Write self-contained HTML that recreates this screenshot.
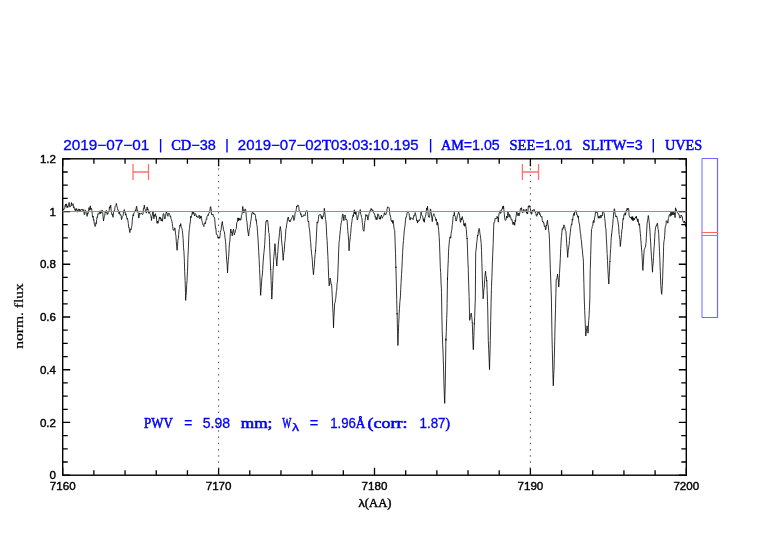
<!DOCTYPE html>
<html><head><meta charset="utf-8"><style>
html,body{margin:0;padding:0;background:#fff;}
body{width:782px;height:542px;overflow:hidden;position:relative;}
svg{position:absolute;left:0;top:0;will-change:transform;}
.lab{font-family:"Liberation Sans",sans-serif;font-size:11.6px;fill:#000;stroke:#000;stroke-width:0.4px;}
.title{font-family:"Liberation Sans",sans-serif;font-size:13.9px;fill:#0000ff;stroke:#0000ff;stroke-width:0.3px;}
.ser{font-family:"Liberation Serif",serif;}
</style></head><body>
<svg width="782" height="542" viewBox="0 0 782 542">
<g stroke="#000" stroke-width="1.4" fill="none">
<rect x="62.7" y="158.8" width="623.6" height="316.4"/>
<path d="M62.70,475.2 V467.7 M62.70,158.8 V166.3 M93.88,475.2 V470.2 M93.88,158.8 V163.8 M125.06,475.2 V470.2 M125.06,158.8 V163.8 M156.24,475.2 V470.2 M156.24,158.8 V163.8 M187.42,475.2 V470.2 M187.42,158.8 V163.8 M218.60,475.2 V467.7 M218.60,158.8 V166.3 M249.78,475.2 V470.2 M249.78,158.8 V163.8 M280.96,475.2 V470.2 M280.96,158.8 V163.8 M312.14,475.2 V470.2 M312.14,158.8 V163.8 M343.32,475.2 V470.2 M343.32,158.8 V163.8 M374.50,475.2 V467.7 M374.50,158.8 V166.3 M405.68,475.2 V470.2 M405.68,158.8 V163.8 M436.86,475.2 V470.2 M436.86,158.8 V163.8 M468.04,475.2 V470.2 M468.04,158.8 V163.8 M499.22,475.2 V470.2 M499.22,158.8 V163.8 M530.40,475.2 V467.7 M530.40,158.8 V166.3 M561.58,475.2 V470.2 M561.58,158.8 V163.8 M592.76,475.2 V470.2 M592.76,158.8 V163.8 M623.94,475.2 V470.2 M623.94,158.8 V163.8 M655.12,475.2 V470.2 M655.12,158.8 V163.8 M686.30,475.2 V467.7 M686.30,158.8 V166.3 M62.7,475.20 H70.2 M686.3,475.20 H678.8 M62.7,462.02 H67.7 M686.3,462.02 H681.3 M62.7,448.83 H67.7 M686.3,448.83 H681.3 M62.7,435.65 H67.7 M686.3,435.65 H681.3 M62.7,422.47 H70.2 M686.3,422.47 H678.8 M62.7,409.28 H67.7 M686.3,409.28 H681.3 M62.7,396.10 H67.7 M686.3,396.10 H681.3 M62.7,382.92 H67.7 M686.3,382.92 H681.3 M62.7,369.73 H70.2 M686.3,369.73 H678.8 M62.7,356.55 H67.7 M686.3,356.55 H681.3 M62.7,343.37 H67.7 M686.3,343.37 H681.3 M62.7,330.18 H67.7 M686.3,330.18 H681.3 M62.7,317.00 H70.2 M686.3,317.00 H678.8 M62.7,303.82 H67.7 M686.3,303.82 H681.3 M62.7,290.63 H67.7 M686.3,290.63 H681.3 M62.7,277.45 H67.7 M686.3,277.45 H681.3 M62.7,264.27 H70.2 M686.3,264.27 H678.8 M62.7,251.08 H67.7 M686.3,251.08 H681.3 M62.7,237.90 H67.7 M686.3,237.90 H681.3 M62.7,224.72 H67.7 M686.3,224.72 H681.3 M62.7,211.53 H70.2 M686.3,211.53 H678.8 M62.7,198.35 H67.7 M686.3,198.35 H681.3 M62.7,185.17 H67.7 M686.3,185.17 H681.3 M62.7,171.98 H67.7 M686.3,171.98 H681.3 M62.7,158.80 H70.2 M686.3,158.80 H678.8" stroke-width="1.3"/>
</g>
<g stroke="#333" stroke-width="0.9" stroke-dasharray="1.4 4.836" fill="none">
<path d="M218.6,162.16 V475.2 M530.4,162.16 V475.2"/>
</g>
<path d="M63.1,209.2 L63.5,209.9 L63.9,208.6 L64.3,208.9 L64.7,208.4 L65.1,205.5 L65.5,204.2 L65.9,206.6 L66.3,203.9 L66.7,204.2 L67.1,207.8 L67.5,206.0 L67.9,207.4 L68.3,205.2 L68.7,205.2 L69.1,202.4 L69.5,205.0 L69.9,207.1 L70.3,206.2 L70.7,206.4 L71.1,205.3 L71.5,202.5 L71.9,205.7 L72.3,205.2 L72.7,204.3 L73.1,203.7 L73.5,207.7 L73.9,206.6 L74.3,208.2 L74.7,209.9 L75.1,210.2 L75.5,211.3 L75.9,208.5 L76.3,209.7 L76.7,208.7 L77.1,211.6 L77.5,212.2 L77.9,209.7 L78.3,209.3 L78.7,209.1 L79.1,211.7 L79.5,209.2 L79.9,210.6 L80.3,209.8 L80.7,210.7 L81.1,209.8 L81.5,209.2 L81.9,209.8 L82.3,209.5 L82.7,210.5 L83.1,209.3 L83.5,210.1 L83.9,212.0 L84.3,214.8 L84.7,214.5 L85.1,209.9 L85.5,210.4 L85.9,211.7 L86.3,213.4 L86.7,213.9 L87.1,216.4 L87.5,212.9 L87.9,214.1 L88.3,211.6 L88.7,209.2 L89.1,207.5 L89.5,210.1 L89.9,209.9 L90.3,205.8 L90.7,209.6 L91.1,208.7 L91.5,208.4 L91.9,210.5 L92.3,214.7 L92.7,217.3 L93.1,216.0 L93.5,220.3 L93.9,219.7 L94.3,224.4 L94.7,224.5 L95.1,226.5 L95.5,225.8 L95.9,222.7 L96.3,223.7 L96.7,219.3 L97.1,216.8 L97.5,217.4 L97.9,213.5 L98.3,213.7 L98.7,214.0 L99.1,214.3 L99.5,211.8 L99.9,210.8 L100.3,213.7 L100.7,210.9 L101.1,213.2 L101.5,212.7 L101.9,210.2 L102.3,210.3 L102.7,212.4 L103.1,217.1 L103.5,221.0 L103.9,218.7 L104.3,216.7 L104.7,215.9 L105.1,212.4 L105.5,211.8 L105.9,212.7 L106.3,210.4 L106.7,210.9 L107.1,214.5 L107.5,213.4 L107.9,214.2 L108.3,211.5 L108.7,211.6 L109.1,210.7 L109.5,206.7 L109.9,208.2 L110.3,207.5 L110.7,205.1 L111.1,210.1 L111.5,212.0 L111.9,214.6 L112.3,214.0 L112.7,216.3 L113.1,217.3 L113.5,212.9 L113.9,210.8 L114.3,211.2 L114.7,210.2 L115.1,206.2 L115.5,206.1 L115.9,205.6 L116.3,203.4 L116.7,205.3 L117.1,206.7 L117.5,208.3 L117.9,210.3 L118.3,210.2 L118.7,211.6 L119.1,213.9 L119.5,211.3 L119.9,214.1 L120.3,215.3 L120.7,214.6 L121.1,215.7 L121.5,219.5 L121.9,218.5 L122.3,216.6 L122.7,216.0 L123.1,215.6 L123.5,211.5 L123.9,211.0 L124.3,209.5 L124.7,212.3 L125.1,212.0 L125.5,215.2 L125.9,213.8 L126.3,215.4 L126.7,217.5 L127.1,219.3 L127.5,218.3 L127.9,220.6 L128.3,223.5 L128.7,227.5 L129.1,227.3 L129.5,231.2 L129.9,232.6 L130.3,229.8 L130.7,228.8 L131.1,229.7 L131.5,227.6 L131.9,225.7 L132.3,220.8 L132.7,216.9 L133.1,214.6 L133.5,216.0 L133.9,213.0 L134.3,212.5 L134.7,212.1 L135.1,211.0 L135.5,209.8 L135.9,210.9 L136.3,206.9 L136.7,206.2 L137.1,210.2 L137.5,209.9 L137.9,212.2 L138.3,213.5 L138.7,218.1 L139.1,216.9 L139.5,212.9 L139.9,214.0 L140.3,214.0 L140.7,213.7 L141.1,213.5 L141.5,212.9 L141.9,213.9 L142.3,214.4 L142.7,214.7 L143.1,213.2 L143.5,208.2 L143.9,208.5 L144.3,205.1 L144.7,208.5 L145.1,208.8 L145.5,210.9 L145.9,211.9 L146.3,213.1 L146.7,210.5 L147.1,206.9 L147.5,209.9 L147.9,208.8 L148.3,210.5 L148.7,213.3 L149.1,212.6 L149.5,211.5 L149.9,213.8 L150.3,214.4 L150.7,215.3 L151.1,217.0 L151.5,220.5 L151.9,216.6 L152.3,215.6 L152.7,211.4 L153.1,210.9 L153.5,215.0 L153.9,218.8 L154.3,214.8 L154.7,216.2 L155.1,215.4 L155.5,213.7 L155.9,216.6 L156.3,216.1 L156.7,220.8 L157.1,223.2 L157.5,221.1 L157.9,223.4 L158.3,222.2 L158.7,221.2 L159.1,218.7 L159.5,216.9 L159.9,218.9 L160.3,217.3 L160.7,219.1 L161.1,221.0 L161.5,219.9 L161.9,218.6 L162.3,221.3 L162.7,219.4 L163.1,214.0 L163.5,213.5 L163.9,214.0 L164.3,216.4 L164.7,219.0 L165.1,218.4 L165.5,216.4 L165.9,213.7 L166.3,211.8 L166.7,213.0 L167.1,212.9 L167.5,215.4 L167.9,216.3 L168.3,214.7 L168.7,213.2 L169.1,213.4 L169.5,214.0 L169.9,215.1 L170.3,217.0 L170.7,216.4 L171.1,219.3 L171.5,219.7 L171.9,221.4 L172.3,223.6 L172.7,226.6 L173.1,229.9 L173.5,229.8 L173.9,230.5 L174.3,229.1 L174.7,227.8 L175.1,228.7 L175.5,233.8 L175.9,235.6 L176.3,241.6 L176.7,246.0 L177.0,249.7 L177.1,250.3 L177.5,246.6 L177.9,240.4 L178.3,238.7 L178.7,234.3 L179.1,229.6 L179.5,228.6 L179.9,225.2 L180.3,226.2 L180.7,223.6 L181.1,226.2 L181.5,227.4 L181.9,228.5 L182.3,230.5 L182.7,233.9 L183.1,238.5 L183.5,247.2 L183.9,251.4 L184.3,258.6 L184.4,261.7 L184.7,271.8 L185.1,280.6 L185.5,292.7 L185.7,300.4 L185.9,295.8 L186.3,293.3 L186.7,284.6 L187.1,280.1 L187.1,278.1 L187.5,271.1 L187.9,257.5 L188.3,250.1 L188.7,238.9 L189.1,231.0 L189.5,228.6 L189.9,224.2 L190.3,222.2 L190.7,216.2 L191.1,217.7 L191.5,215.5 L191.9,215.3 L192.3,211.6 L192.7,213.2 L193.1,214.2 L193.5,211.2 L193.9,213.0 L194.3,214.7 L194.7,216.0 L195.1,213.7 L195.5,213.7 L195.9,214.2 L196.3,215.9 L196.7,217.1 L197.1,216.2 L197.5,216.8 L197.9,217.6 L198.3,217.0 L198.7,216.9 L199.1,215.1 L199.5,216.5 L199.9,218.7 L200.3,216.5 L200.7,218.1 L201.1,215.9 L201.5,218.3 L201.9,220.6 L202.3,222.3 L202.7,223.7 L203.1,225.1 L203.5,225.6 L203.9,226.6 L204.3,223.3 L204.7,222.7 L205.1,224.0 L205.5,223.4 L205.9,220.4 L206.3,218.9 L206.7,219.3 L207.1,216.2 L207.5,215.7 L207.9,214.7 L208.3,215.5 L208.7,213.6 L209.1,212.5 L209.5,212.7 L209.9,211.7 L210.3,206.9 L210.7,206.6 L211.1,208.8 L211.5,214.1 L211.9,215.0 L212.3,214.2 L212.7,214.5 L213.1,214.2 L213.5,216.8 L213.9,217.2 L214.3,217.2 L214.7,218.8 L215.1,224.0 L215.5,228.3 L215.9,228.1 L216.3,234.1 L216.7,234.0 L217.1,235.3 L217.5,235.5 L217.9,237.7 L218.2,236.9 L218.3,238.3 L218.7,237.3 L219.1,237.2 L219.5,238.3 L219.7,237.5 L219.9,237.5 L220.3,232.5 L220.7,230.8 L221.1,229.9 L221.5,226.1 L221.9,223.3 L222.3,221.5 L222.7,225.2 L223.1,226.6 L223.5,229.5 L223.9,231.1 L224.3,231.7 L224.7,234.7 L225.1,238.3 L225.5,241.2 L225.8,244.9 L225.9,247.3 L226.3,254.2 L226.7,260.6 L227.1,264.1 L227.5,271.4 L227.5,272.9 L227.9,265.2 L228.3,260.3 L228.7,256.2 L229.1,249.9 L229.1,248.2 L229.5,243.1 L229.9,241.1 L230.3,233.8 L230.7,229.0 L231.1,230.3 L231.5,232.8 L231.9,232.2 L232.2,235.9 L232.3,234.6 L232.7,232.4 L233.1,230.1 L233.5,229.2 L233.9,232.1 L234.3,234.9 L234.7,233.2 L235.1,232.7 L235.5,229.8 L235.9,229.4 L236.3,228.7 L236.7,222.7 L237.1,222.2 L237.5,221.8 L237.9,217.8 L238.3,220.8 L238.7,218.0 L239.1,219.9 L239.5,220.1 L239.9,218.3 L240.3,220.1 L240.7,220.2 L241.1,219.2 L241.5,215.3 L241.9,214.6 L242.3,211.6 L242.7,206.4 L243.1,208.7 L243.5,209.7 L243.9,213.0 L244.3,210.7 L244.7,210.7 L245.1,208.9 L245.5,209.4 L245.9,211.5 L246.3,217.1 L246.7,220.7 L247.1,222.5 L247.5,229.2 L247.9,231.9 L248.3,233.4 L248.4,235.9 L248.7,235.9 L249.1,230.1 L249.5,228.4 L249.9,227.6 L250.3,224.5 L250.7,221.7 L251.1,219.4 L251.5,216.0 L251.9,213.3 L252.3,212.4 L252.7,211.5 L253.1,213.9 L253.5,213.7 L253.9,213.0 L254.3,214.6 L254.7,213.9 L255.1,214.3 L255.5,215.6 L255.9,220.4 L256.3,219.6 L256.7,224.3 L257.1,225.9 L257.5,231.9 L257.9,237.1 L258.3,244.0 L258.7,251.3 L259.1,258.8 L259.2,260.4 L259.5,268.5 L259.9,276.1 L260.3,287.5 L260.7,295.4 L260.7,293.8 L261.1,289.1 L261.5,283.0 L261.9,277.7 L262.3,275.1 L262.7,269.5 L262.9,265.9 L263.1,262.1 L263.5,257.0 L263.9,252.9 L264.3,249.2 L264.7,244.5 L264.8,241.9 L265.1,236.8 L265.5,228.0 L265.9,221.6 L266.3,221.8 L266.7,220.2 L267.1,220.7 L267.5,220.1 L267.9,222.4 L268.3,226.5 L268.7,232.6 L269.1,233.3 L269.4,238.2 L269.5,241.9 L269.9,251.9 L270.3,261.8 L270.7,269.6 L270.7,269.1 L271.1,280.5 L271.5,291.4 L271.8,299.1 L271.9,297.5 L272.3,290.4 L272.7,280.5 L273.1,270.3 L273.5,264.1 L273.6,260.4 L273.9,256.5 L274.3,251.8 L274.7,247.2 L274.9,243.7 L275.1,243.9 L275.5,251.8 L275.9,256.1 L276.3,260.0 L276.7,264.8 L276.8,265.9 L277.1,261.7 L277.5,255.3 L277.9,251.4 L278.3,244.0 L278.6,241.9 L278.7,240.9 L279.1,237.4 L279.5,232.5 L279.9,228.9 L280.3,226.5 L280.7,229.1 L281.1,231.2 L281.5,239.2 L281.9,243.8 L282.3,246.7 L282.7,253.2 L283.1,258.0 L283.2,260.4 L283.5,255.3 L283.9,252.7 L284.3,249.9 L284.7,242.8 L285.1,240.6 L285.5,235.4 L285.9,228.6 L286.3,228.3 L286.7,224.3 L287.1,222.7 L287.5,218.9 L287.9,217.9 L288.3,217.0 L288.7,219.7 L289.1,221.0 L289.5,221.5 L289.9,220.3 L290.3,221.7 L290.7,220.5 L291.1,219.0 L291.5,218.7 L291.9,217.6 L292.3,216.8 L292.7,215.4 L293.1,215.5 L293.5,218.8 L293.9,220.5 L294.3,219.6 L294.7,217.3 L295.1,212.6 L295.5,212.0 L295.9,212.0 L296.3,208.9 L296.7,205.9 L297.1,206.9 L297.5,205.9 L297.9,204.9 L298.3,205.3 L298.7,206.4 L299.1,209.9 L299.5,211.6 L299.9,212.1 L300.3,212.6 L300.7,214.6 L301.1,213.8 L301.5,216.9 L301.9,217.1 L302.3,216.6 L302.7,215.9 L303.1,216.4 L303.5,215.2 L303.9,214.7 L304.3,215.2 L304.7,215.6 L305.1,215.9 L305.5,212.7 L305.9,211.1 L306.3,211.5 L306.7,210.4 L307.1,210.9 L307.5,213.0 L307.9,221.2 L308.3,222.0 L308.7,221.2 L309.1,227.8 L309.5,229.2 L309.9,233.1 L310.3,239.2 L310.7,242.4 L311.1,248.8 L311.5,252.1 L311.6,253.9 L311.9,255.8 L312.3,260.1 L312.7,267.5 L313.1,270.2 L313.4,274.6 L313.5,274.7 L313.9,268.9 L314.3,266.4 L314.7,259.3 L315.1,254.7 L315.5,250.3 L315.5,251.3 L315.9,245.7 L316.3,238.0 L316.7,229.9 L317.1,221.9 L317.5,223.0 L317.9,222.9 L318.3,219.9 L318.7,216.1 L319.1,214.9 L319.5,214.8 L319.9,215.1 L320.3,214.6 L320.7,214.6 L321.1,217.1 L321.5,218.4 L321.9,215.7 L322.3,219.2 L322.7,217.4 L323.1,217.0 L323.5,215.7 L323.9,213.9 L324.3,208.3 L324.7,211.6 L325.1,214.9 L325.5,219.7 L325.9,220.8 L326.3,226.3 L326.7,235.6 L327.1,240.2 L327.5,249.1 L327.9,256.6 L328.0,259.2 L328.3,267.2 L328.7,277.9 L329.1,284.4 L329.1,285.8 L329.5,284.0 L329.9,281.1 L330.2,278.0 L330.3,279.9 L330.7,280.8 L331.1,284.5 L331.5,284.2 L331.7,285.8 L331.9,289.5 L332.3,296.9 L332.7,307.4 L333.0,312.3 L333.1,315.3 L333.5,326.8 L333.5,327.8 L333.9,317.6 L334.3,311.1 L334.6,303.5 L334.7,303.5 L335.1,302.4 L335.5,299.4 L335.7,299.1 L335.9,297.1 L336.3,291.7 L336.7,290.2 L337.1,283.3 L337.5,281.3 L337.5,281.4 L337.9,272.5 L338.3,262.1 L338.7,249.6 L339.0,243.8 L339.1,241.6 L339.5,239.6 L339.9,234.2 L340.3,230.7 L340.7,226.7 L341.1,222.8 L341.5,222.5 L341.9,219.7 L342.3,215.9 L342.7,213.9 L343.1,214.7 L343.5,218.1 L343.9,220.7 L344.3,215.5 L344.7,215.8 L345.1,215.1 L345.5,216.3 L345.9,220.0 L346.3,219.5 L346.7,219.5 L347.1,220.7 L347.5,226.1 L347.9,231.7 L348.3,235.1 L348.7,241.8 L349.1,250.8 L349.1,248.8 L349.5,243.7 L349.9,241.2 L350.3,236.6 L350.4,236.0 L350.7,233.5 L351.1,227.8 L351.5,224.4 L351.9,221.7 L352.3,218.6 L352.7,217.0 L353.1,214.9 L353.5,216.4 L353.9,211.8 L354.3,209.8 L354.7,213.7 L355.1,211.0 L355.5,214.4 L355.9,211.5 L356.3,214.5 L356.7,215.1 L357.1,219.3 L357.5,220.1 L357.9,217.7 L358.3,215.7 L358.7,214.6 L359.1,211.6 L359.5,211.9 L359.9,210.5 L360.3,209.5 L360.7,214.2 L361.1,214.8 L361.5,217.4 L361.9,217.8 L362.3,222.5 L362.7,225.5 L363.1,229.9 L363.5,230.5 L363.9,231.3 L364.3,228.0 L364.7,222.4 L365.1,220.5 L365.5,217.3 L365.9,214.4 L366.3,215.9 L366.7,216.2 L367.1,215.2 L367.5,216.5 L367.9,220.1 L368.3,217.1 L368.7,216.2 L369.1,213.4 L369.5,212.6 L369.9,210.7 L370.3,212.1 L370.7,209.5 L371.1,208.4 L371.5,209.7 L371.9,209.0 L372.3,211.2 L372.7,210.5 L373.1,210.3 L373.5,212.8 L373.9,212.9 L374.3,213.8 L374.7,213.9 L375.1,217.1 L375.5,216.5 L375.9,219.5 L376.3,219.6 L376.7,217.5 L377.1,219.5 L377.5,215.3 L377.9,213.8 L378.3,215.3 L378.7,214.9 L379.1,217.3 L379.5,219.1 L379.9,217.4 L380.3,219.3 L380.7,216.4 L381.1,216.0 L381.5,215.0 L381.9,217.5 L382.3,218.3 L382.7,217.2 L383.1,216.3 L383.5,216.0 L383.9,215.4 L384.3,212.9 L384.7,212.6 L385.1,214.6 L385.5,213.9 L385.9,214.5 L386.3,213.6 L386.7,212.1 L387.1,208.9 L387.5,206.9 L387.9,207.1 L388.3,207.3 L388.7,207.2 L389.1,207.8 L389.5,210.2 L389.9,215.4 L390.3,215.3 L390.7,217.4 L391.1,220.5 L391.5,221.5 L391.9,220.1 L392.3,220.5 L392.7,223.4 L393.1,220.5 L393.5,223.4 L393.9,227.3 L394.3,229.7 L394.7,230.4 L395.1,241.5 L395.5,253.8 L395.9,267.8 L395.9,266.7 L396.3,282.1 L396.7,299.7 L397.1,314.4 L397.1,313.2 L397.5,331.4 L397.9,343.5 L397.9,345.5 L398.3,334.2 L398.7,323.6 L399.1,315.4 L399.2,313.2 L399.5,308.3 L399.9,301.6 L400.3,298.1 L400.5,295.1 L400.7,289.5 L401.1,282.5 L401.5,274.4 L401.9,268.8 L402.3,259.4 L402.6,253.8 L402.7,251.4 L403.1,244.7 L403.5,240.6 L403.9,235.6 L404.3,230.1 L404.7,227.8 L405.1,224.9 L405.5,220.0 L405.9,217.1 L406.3,217.2 L406.7,215.5 L407.1,212.6 L407.5,212.3 L407.9,212.3 L408.3,212.4 L408.7,213.2 L409.1,213.8 L409.5,217.6 L409.9,219.9 L410.3,219.8 L410.7,217.4 L411.1,217.7 L411.5,218.3 L411.9,218.6 L412.3,218.5 L412.7,218.5 L413.1,219.7 L413.5,216.8 L413.9,215.4 L414.3,216.1 L414.7,215.9 L415.1,212.6 L415.5,213.8 L415.9,215.4 L416.3,217.6 L416.7,220.9 L417.1,220.2 L417.5,223.1 L417.9,220.6 L418.3,221.5 L418.7,221.3 L419.1,219.8 L419.5,220.5 L419.9,219.2 L420.3,218.4 L420.7,215.8 L421.1,212.1 L421.5,214.3 L421.9,215.2 L422.3,216.1 L422.7,216.3 L423.1,219.2 L423.5,221.1 L423.9,218.8 L424.3,222.3 L424.7,218.8 L425.1,217.1 L425.5,216.4 L425.9,214.3 L426.3,211.5 L426.7,208.1 L427.1,209.7 L427.5,206.3 L427.9,210.6 L428.3,215.9 L428.7,217.1 L429.1,217.2 L429.5,217.3 L429.9,214.4 L430.3,208.9 L430.7,209.5 L431.1,212.3 L431.5,215.0 L431.9,218.7 L432.3,221.6 L432.7,216.5 L433.1,215.7 L433.5,214.2 L433.9,213.7 L434.3,215.6 L434.7,216.5 L435.1,216.9 L435.5,217.9 L435.9,220.6 L436.3,219.1 L436.7,221.8 L437.1,225.2 L437.5,222.1 L437.9,223.4 L438.3,226.9 L438.7,230.5 L439.1,236.2 L439.2,237.1 L439.5,243.2 L439.9,254.7 L440.1,261.1 L440.3,267.3 L440.7,272.4 L441.1,284.1 L441.4,288.8 L441.5,292.6 L441.9,316.9 L442.2,330.4 L442.3,333.9 L442.7,344.9 L443.1,353.9 L443.3,360.9 L443.5,365.9 L443.9,382.6 L444.3,393.9 L444.3,395.3 L444.7,402.1 L444.7,403.4 L445.1,389.9 L445.3,381.1 L445.5,369.2 L445.9,338.7 L445.9,340.6 L446.3,331.4 L446.7,318.6 L447.0,310.1 L447.1,303.5 L447.5,277.9 L447.5,279.6 L447.9,268.1 L448.3,259.5 L448.5,251.9 L448.7,248.8 L449.1,243.9 L449.5,239.7 L449.7,239.0 L449.9,236.9 L450.3,236.8 L450.7,238.2 L451.1,233.6 L451.5,231.1 L451.9,229.4 L452.3,224.7 L452.7,222.2 L453.1,216.7 L453.5,215.1 L453.9,215.9 L454.3,212.3 L454.7,215.6 L455.1,216.2 L455.5,217.3 L455.9,221.0 L456.3,221.0 L456.7,219.5 L457.1,217.0 L457.5,215.1 L457.9,214.3 L458.3,212.8 L458.7,212.1 L459.1,214.1 L459.5,214.0 L459.9,218.2 L460.3,222.1 L460.7,222.4 L461.1,218.2 L461.5,220.1 L461.9,218.3 L462.3,216.6 L462.7,219.1 L463.1,220.5 L463.5,220.7 L463.9,225.4 L464.3,223.7 L464.7,226.3 L465.1,223.4 L465.5,223.3 L465.9,227.1 L466.3,229.4 L466.7,235.1 L467.1,238.8 L467.1,238.0 L467.5,249.1 L467.9,261.2 L468.3,269.4 L468.3,271.1 L468.7,284.1 L469.1,296.5 L469.2,300.0 L469.5,313.7 L469.6,320.3 L469.9,319.4 L470.3,316.5 L470.7,315.4 L471.1,313.1 L471.2,313.2 L471.5,314.9 L471.9,318.4 L472.3,322.7 L472.3,322.3 L472.7,335.3 L473.1,346.1 L473.3,349.7 L473.5,346.1 L473.9,335.9 L474.3,323.4 L474.3,324.3 L474.7,316.6 L475.1,303.9 L475.3,300.0 L475.5,274.8 L475.7,252.7 L475.9,250.9 L476.3,248.1 L476.7,242.8 L477.1,240.4 L477.5,235.2 L477.5,236.1 L477.9,236.1 L478.3,232.0 L478.7,230.1 L479.1,228.4 L479.5,229.3 L479.9,233.5 L480.3,235.3 L480.7,238.6 L481.1,243.1 L481.2,243.5 L481.5,250.4 L481.9,263.6 L482.3,277.0 L482.7,288.3 L483.1,296.9 L483.1,298.8 L483.5,295.7 L483.9,289.2 L484.3,287.2 L484.4,284.0 L484.7,279.9 L485.1,274.6 L485.5,271.3 L485.5,271.1 L485.9,275.6 L486.3,276.5 L486.7,281.2 L486.8,280.4 L487.1,290.5 L487.5,301.3 L487.7,308.0 L487.9,318.0 L488.3,340.6 L488.3,340.6 L488.7,349.6 L489.1,359.0 L489.5,369.6 L489.5,369.0 L489.9,356.4 L490.3,341.0 L490.3,340.6 L490.7,320.6 L491.1,302.3 L491.4,289.6 L491.5,286.5 L491.9,277.3 L492.3,265.0 L492.7,254.5 L493.1,245.3 L493.2,243.5 L493.5,231.9 L493.9,222.6 L494.3,222.6 L494.7,222.0 L495.1,218.2 L495.5,218.4 L495.9,218.5 L496.3,218.4 L496.7,218.5 L497.1,216.3 L497.5,218.1 L497.9,217.4 L498.3,222.2 L498.7,216.4 L499.1,213.1 L499.5,213.1 L499.9,210.8 L500.3,210.6 L500.7,213.4 L501.1,212.7 L501.5,210.4 L501.9,208.9 L502.3,209.0 L502.7,206.4 L503.1,208.6 L503.5,205.9 L503.9,209.8 L504.3,213.9 L504.7,218.0 L505.1,220.2 L505.5,220.4 L505.9,220.0 L506.3,218.5 L506.7,216.0 L507.1,218.1 L507.5,215.2 L507.9,211.1 L508.3,212.9 L508.7,215.3 L509.1,217.3 L509.5,214.4 L509.9,214.6 L510.3,216.9 L510.7,216.9 L511.1,219.2 L511.5,220.2 L511.9,219.5 L512.3,221.2 L512.7,223.0 L513.1,224.7 L513.5,222.2 L513.9,223.4 L514.3,222.6 L514.7,225.3 L515.1,220.2 L515.5,221.5 L515.9,217.3 L516.3,215.0 L516.7,211.8 L517.1,212.7 L517.5,213.9 L517.9,215.8 L518.3,214.4 L518.7,213.1 L519.1,215.8 L519.5,214.1 L519.9,212.4 L520.3,209.5 L520.7,208.4 L521.1,209.5 L521.5,207.7 L521.9,210.7 L522.3,212.5 L522.7,212.8 L523.1,211.7 L523.5,209.4 L523.9,209.2 L524.3,211.6 L524.7,212.2 L525.1,210.8 L525.5,211.6 L525.9,210.3 L526.3,209.0 L526.7,213.3 L527.1,212.0 L527.5,214.0 L527.9,212.1 L528.3,206.2 L528.7,207.1 L529.1,205.4 L529.5,206.1 L529.9,207.5 L530.3,208.4 L530.7,211.2 L531.1,211.7 L531.5,214.3 L531.9,213.8 L532.3,210.1 L532.7,211.2 L533.1,210.8 L533.5,209.6 L533.9,209.6 L534.3,209.4 L534.7,212.0 L535.1,211.7 L535.5,211.9 L535.9,213.6 L536.3,215.7 L536.7,216.3 L537.1,214.1 L537.5,215.0 L537.9,212.1 L538.3,213.1 L538.7,212.7 L539.1,211.5 L539.5,214.5 L539.9,213.6 L540.3,215.0 L540.7,216.1 L541.1,217.0 L541.5,217.1 L541.9,216.5 L542.3,220.6 L542.7,222.0 L543.1,221.6 L543.5,223.0 L543.9,222.7 L544.3,226.3 L544.7,226.5 L545.1,225.8 L545.5,229.5 L545.9,229.8 L546.3,225.1 L546.7,225.8 L547.1,221.6 L547.5,220.4 L547.9,224.9 L548.3,225.8 L548.7,230.6 L549.1,233.1 L549.5,241.1 L549.9,255.1 L550.1,261.1 L550.3,268.3 L550.7,278.0 L551.1,289.6 L551.4,298.0 L551.5,306.0 L551.9,330.2 L552.0,336.9 L552.3,349.2 L552.7,365.9 L552.9,373.8 L553.1,381.2 L553.3,385.8 L553.5,380.1 L553.9,370.6 L554.0,370.1 L554.3,358.7 L554.7,341.3 L554.8,336.9 L555.1,323.8 L555.5,309.8 L555.7,300.0 L555.9,293.5 L556.2,279.6 L556.3,279.3 L556.7,279.5 L557.1,277.1 L557.5,275.0 L557.5,274.0 L557.9,277.1 L558.3,279.9 L558.7,286.8 L558.8,287.0 L559.1,282.5 L559.5,273.5 L559.9,266.6 L559.9,266.7 L560.3,258.5 L560.7,248.6 L561.1,242.0 L561.2,239.0 L561.5,236.5 L561.9,232.1 L562.3,228.7 L562.7,229.5 L563.1,227.5 L563.5,228.2 L563.9,224.8 L564.3,226.0 L564.7,226.5 L565.1,228.8 L565.5,230.9 L565.9,231.3 L566.3,236.5 L566.7,243.7 L567.1,248.0 L567.5,254.7 L567.7,257.4 L567.9,254.0 L568.3,249.6 L568.7,247.3 L569.1,244.9 L569.5,240.5 L569.5,239.0 L569.9,236.1 L570.3,232.7 L570.7,228.3 L571.1,226.2 L571.5,223.9 L571.9,224.5 L572.3,219.0 L572.7,220.4 L573.1,216.4 L573.5,214.8 L573.9,213.3 L574.3,215.5 L574.7,211.4 L575.1,212.3 L575.5,211.5 L575.9,210.6 L576.3,211.1 L576.7,214.7 L577.1,214.3 L577.5,214.9 L577.9,217.5 L578.3,216.0 L578.7,220.5 L579.1,223.2 L579.5,224.0 L579.9,228.0 L580.3,233.2 L580.7,233.8 L581.1,239.5 L581.5,241.0 L581.9,247.0 L582.3,249.3 L582.7,254.2 L583.1,257.6 L583.4,261.1 L583.5,267.0 L583.9,283.7 L584.3,300.0 L584.3,300.0 L584.7,310.6 L585.1,319.3 L585.2,322.1 L585.5,330.3 L585.8,336.0 L585.9,334.1 L586.3,331.9 L586.7,328.7 L587.0,325.8 L587.1,326.1 L587.5,327.6 L587.9,331.1 L588.0,333.2 L588.3,328.9 L588.7,320.6 L588.9,318.5 L589.1,315.5 L589.5,306.2 L589.8,300.0 L589.9,294.5 L590.2,270.4 L590.3,268.7 L590.7,255.3 L591.1,241.0 L591.5,229.3 L591.9,228.5 L592.3,226.4 L592.7,226.0 L593.1,221.8 L593.5,220.5 L593.9,222.8 L594.3,220.4 L594.7,217.1 L595.1,216.1 L595.5,211.4 L595.9,210.9 L596.3,211.8 L596.7,212.7 L597.1,212.1 L597.5,213.1 L597.9,216.2 L598.3,218.3 L598.7,216.2 L599.1,216.7 L599.5,216.5 L599.9,218.3 L600.3,215.6 L600.7,215.2 L601.1,217.7 L601.5,216.3 L601.9,215.1 L602.3,215.9 L602.7,211.4 L603.1,211.0 L603.5,212.1 L603.9,212.3 L604.3,214.1 L604.7,218.5 L605.1,221.2 L605.5,227.8 L605.9,228.1 L606.3,237.8 L606.7,243.9 L607.1,253.5 L607.2,254.2 L607.5,260.4 L607.9,269.9 L608.3,277.0 L608.3,277.7 L608.7,281.6 L608.8,284.0 L609.1,277.8 L609.5,271.3 L609.9,261.4 L609.9,262.0 L610.3,254.2 L610.7,248.3 L611.1,240.4 L611.5,234.6 L611.5,235.4 L611.9,232.1 L612.3,228.3 L612.7,224.9 L613.1,219.9 L613.5,215.0 L613.9,211.2 L614.3,208.7 L614.7,209.5 L615.1,214.1 L615.5,215.2 L615.9,217.0 L616.3,216.0 L616.7,216.0 L617.1,218.0 L617.5,219.4 L617.9,221.3 L618.3,224.0 L618.7,227.2 L619.1,234.5 L619.3,235.4 L619.5,237.3 L619.9,239.3 L620.3,246.5 L620.4,245.6 L620.7,243.0 L621.1,239.2 L621.5,234.5 L621.9,229.3 L622.3,229.0 L622.7,221.6 L623.1,218.5 L623.5,219.4 L623.9,214.7 L624.3,215.2 L624.7,214.2 L625.1,212.8 L625.5,215.2 L625.9,212.7 L626.3,210.6 L626.7,211.4 L627.1,208.2 L627.5,209.9 L627.9,209.3 L628.3,208.2 L628.7,208.9 L629.1,215.9 L629.5,216.0 L629.9,217.5 L630.3,217.6 L630.7,218.1 L631.1,217.2 L631.5,219.1 L631.9,216.6 L632.3,220.1 L632.7,216.6 L633.1,220.9 L633.5,218.2 L633.9,218.0 L634.3,219.9 L634.7,218.2 L635.1,218.4 L635.5,217.3 L635.9,218.0 L636.3,216.0 L636.7,218.7 L637.1,218.5 L637.5,221.7 L637.9,219.0 L638.3,220.6 L638.7,223.8 L639.1,225.4 L639.5,223.7 L639.9,228.9 L640.3,233.3 L640.7,237.6 L641.1,243.0 L641.5,248.6 L641.5,248.2 L641.9,252.6 L642.3,260.1 L642.7,268.2 L642.9,270.4 L643.1,266.3 L643.5,260.9 L643.9,253.8 L644.2,250.1 L644.3,249.1 L644.7,248.8 L645.1,247.6 L645.5,247.0 L645.9,243.4 L646.1,242.7 L646.3,237.8 L646.7,230.9 L647.1,223.4 L647.5,220.7 L647.9,218.8 L648.3,215.5 L648.7,217.9 L649.1,221.6 L649.5,225.2 L649.9,230.0 L650.3,237.7 L650.7,243.0 L651.1,251.9 L651.2,251.9 L651.5,256.9 L651.9,262.2 L652.3,268.8 L652.5,272.2 L652.7,267.1 L653.1,263.8 L653.5,257.6 L653.8,251.9 L653.9,249.9 L654.3,245.5 L654.7,237.7 L655.1,231.6 L655.5,227.8 L655.9,226.1 L656.3,226.1 L656.7,224.6 L657.1,223.4 L657.5,223.2 L657.9,228.4 L658.3,229.7 L658.7,233.4 L659.1,243.0 L659.5,251.7 L659.9,259.8 L659.9,261.1 L660.3,271.3 L660.7,283.0 L660.8,285.1 L661.1,288.8 L661.5,293.3 L661.8,294.3 L661.9,291.0 L662.3,285.7 L662.7,277.2 L662.7,275.9 L663.1,263.7 L663.5,251.7 L663.6,246.4 L663.9,241.5 L664.3,239.7 L664.7,235.7 L665.1,227.9 L665.5,226.0 L665.9,225.5 L666.3,220.8 L666.7,221.3 L667.1,220.7 L667.5,221.6 L667.9,223.2 L668.3,218.7 L668.7,217.5 L669.1,215.4 L669.5,214.5 L669.9,214.7 L670.3,216.3 L670.7,213.1 L671.1,211.8 L671.5,215.4 L671.9,212.5 L672.3,212.5 L672.7,214.9 L673.1,212.1 L673.5,211.4 L673.9,214.9 L674.3,212.7 L674.7,213.6 L675.1,217.6 L675.5,207.8 L675.9,210.2 L676.3,209.6 L676.7,211.0 L677.1,211.0 L677.5,212.8 L677.9,213.3 L678.3,213.3 L678.7,214.5 L679.1,214.5 L679.5,217.5 L679.9,218.2 L680.3,217.6 L680.7,218.0 L681.1,215.0 L681.5,216.1 L681.9,216.3 L682.3,216.5 L682.7,220.3 L683.1,221.2 L683.5,222.5 L683.9,222.0 L684.3,221.0 L684.7,223.1 L685.1,222.3 L685.5,226.4 L685.9,224.1" stroke="#000" stroke-width="0.8" fill="none" stroke-linejoin="round"/>
<path d="M62.7,211.5 H686.3" stroke="#ff6464" stroke-width="1"/><path d="M63.400000000000006,211.5 H70.2 M678.8,211.5 H685.5999999999999" stroke="#a02020" stroke-width="1"/>
<g stroke="#ff7070" stroke-width="1.3" fill="none">
<path d="M133,164 V180 M148.5,164 V180 M133,172 H148.5"/>
<path d="M522.4,164 V180 M538.5,164 V180 M522.4,172 H538.5"/>
</g>
<path d="M702,158.5 V317.5" stroke="#b4b4ff" stroke-width="2"/>
<path d="M702,158.5 H717.5 V317.5 H702" stroke="#6b6bff" stroke-width="1.2" fill="none"/>
<path d="M701.5,232.5 H718 M701.5,235.5 H718" stroke="#ff6464" stroke-width="1"/>
<g class="lab"><text x="56" y="479.3" text-anchor="end">0</text><text x="56" y="426.6" text-anchor="end">0.2</text><text x="56" y="373.8" text-anchor="end">0.4</text><text x="56" y="321.1" text-anchor="end">0.6</text><text x="56" y="268.4" text-anchor="end">0.8</text><text x="56" y="215.6" text-anchor="end">1</text><text x="56" y="162.9" text-anchor="end">1.2</text><text x="62.7" y="490.3" text-anchor="middle">7160</text><text x="218.6" y="490.3" text-anchor="middle">7170</text><text x="374.5" y="490.3" text-anchor="middle">7180</text><text x="530.4" y="490.3" text-anchor="middle">7190</text><text x="686.3" y="490.3" text-anchor="middle">7200</text></g>
<text class="lab" x="358.6" y="506.8" textLength="32.8" lengthAdjust="spacingAndGlyphs">λ<tspan class="ser">(AA)</tspan></text>
<text class="lab ser" transform="translate(23.3,316) rotate(-90)" text-anchor="middle" textLength="65.6" lengthAdjust="spacingAndGlyphs" style="font-size:13.2px;stroke-width:0.2px">norm. flux</text>
<text class="title" x="63.2" y="150.4" textLength="86.0" lengthAdjust="spacingAndGlyphs" >2019−07−01</text><text class="title" x="171.2" y="150.4" textLength="44.7" lengthAdjust="spacingAndGlyphs" ><tspan class="ser" style="stroke-width:0.5px">CD</tspan>−38</text><text class="title" x="237.8" y="150.4" textLength="180.8" lengthAdjust="spacingAndGlyphs" >2019−07−02<tspan class="ser" style="stroke-width:0.5px">T</tspan>03<tspan class="ser" style="stroke-width:0.5px">:</tspan>03<tspan class="ser" style="stroke-width:0.5px">:</tspan>10.195</text><text class="title" x="440.9" y="150.4" textLength="58.8" lengthAdjust="spacingAndGlyphs" ><tspan class="ser" style="stroke-width:0.5px">AM</tspan>=1.05</text><text class="title" x="509.5" y="150.4" textLength="62.8" lengthAdjust="spacingAndGlyphs" ><tspan class="ser" style="stroke-width:0.5px">SEE</tspan>=1.01</text><text class="title" x="582.6" y="150.4" textLength="60.1" lengthAdjust="spacingAndGlyphs" ><tspan class="ser" style="stroke-width:0.5px">SLITW</tspan>=3</text><text class="title" x="665.0" y="150.4" textLength="37.2" lengthAdjust="spacingAndGlyphs" ><tspan class="ser" style="stroke-width:0.5px">UVES</tspan></text><path d="M160.6,139.1 V152.6 M227.0,139.1 V152.6 M430.6,139.1 V152.6 M653.3,139.1 V152.6" stroke="#0000ff" stroke-width="1.4"/>
<text class="title" x="144.0" y="427.8" textLength="28.8" lengthAdjust="spacingAndGlyphs" ><tspan class="ser" style="stroke-width:0.55px">PWV</tspan></text><text class="title" x="184.3" y="427.8" textLength="8.1" lengthAdjust="spacingAndGlyphs" >=</text><text class="title" x="202.8" y="427.8" textLength="27.4" lengthAdjust="spacingAndGlyphs" >5.98</text><text class="title" x="240.8" y="427.8" textLength="31.6" lengthAdjust="spacingAndGlyphs" ><tspan class="ser" style="stroke-width:0.55px">mm;</tspan></text><text class="title" x="282.3" y="427.8" textLength="9.1" lengthAdjust="spacingAndGlyphs" ><tspan class="ser" style="stroke-width:0.55px">W</tspan></text><text class="title" x="309.8" y="427.8" textLength="8.5" lengthAdjust="spacingAndGlyphs" >=</text><text class="title" x="330.2" y="427.8" textLength="35.2" lengthAdjust="spacingAndGlyphs" >1.96<tspan class="ser" style="stroke-width:0.55px">Å</tspan></text><text class="title" x="367.5" y="427.8" textLength="39.9" lengthAdjust="spacingAndGlyphs" ><tspan class="ser" style="stroke-width:0.55px">(corr:</tspan></text><text class="title" x="419.5" y="427.8" textLength="30.5" lengthAdjust="spacingAndGlyphs" >1.87<tspan class="ser" style="stroke-width:0.55px">)</tspan></text><text class="title" x="292.1" y="431.1" textLength="7.1" lengthAdjust="spacingAndGlyphs" style="font-size:10px">λ</text>
</svg>
</body></html>
